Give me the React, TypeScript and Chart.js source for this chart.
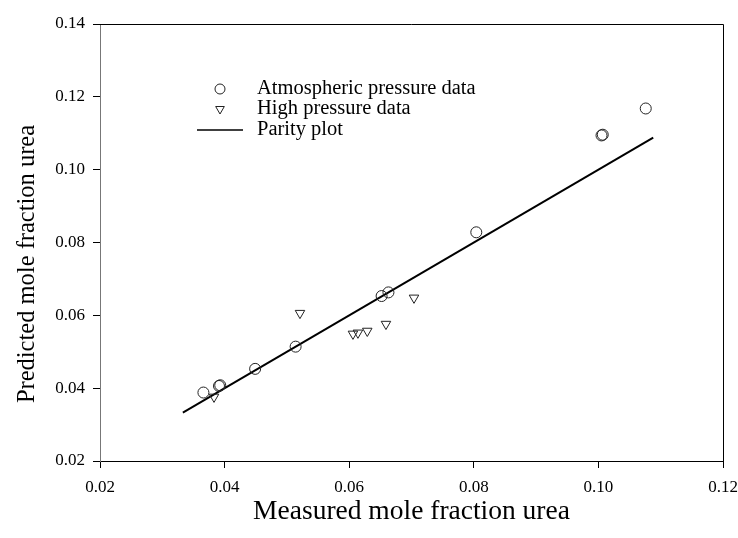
import React, { useEffect, useRef } from "react";
import { Chart, registerables } from "chart.js";

Chart.register(...registerables);

const atmX = [0.0366, 0.0391, 0.0393, 0.0449, 0.0514, 0.0652, 0.0663, 0.0804, 0.1005, 0.1007, 0.1076];
const atmY = [0.0388, 0.0406, 0.0408, 0.0453, 0.0514, 0.0653, 0.0663, 0.0828, 0.1094, 0.1096, 0.1168];
const hpX = [0.0383, 0.0521, 0.0606, 0.0614, 0.0629, 0.0659, 0.0704];
const hpY = [0.0376, 0.0606, 0.0549, 0.0552, 0.0557, 0.0576, 0.0648];
const parityX = [0.0333, 0.1088];
const parityY = [0.0333, 0.1088];

const xTicks = [0.02, 0.04, 0.06, 0.08, 0.1, 0.12];
const yTicks = [0.02, 0.04, 0.06, 0.08, 0.1, 0.12, 0.14];

const legendLabels = ["Atmospheric pressure data", "High pressure data", "Parity plot"];
const xTitle = "Measured mole fraction urea";
const yTitle = "Predicted mole fraction urea";

const FONT = "'Liberation Serif', 'Times New Roman', serif";

const zip = (xs: number[], ys: number[]) => xs.map((x, i) => ({ x, y: ys[i] }));

const decorPlugin = {
  id: "decor",
  afterDraw(chart: any) {
    const { ctx, chartArea } = chart;
    const { left, right, top, bottom } = chartArea;
    ctx.save();
    // top and right frame
    ctx.strokeStyle = "#000";
    ctx.lineWidth = 1;
    ctx.beginPath();
    ctx.moveTo(left, top + 0.5);
    ctx.lineTo(right + 0.5, top + 0.5);
    ctx.lineTo(right + 0.5, bottom);
    ctx.stroke();
    // legend
    const mx = left + 120;
    const tx = left + 157;
    const ys = [top + 65, top + 85, top + 106];
    ctx.strokeStyle = "#222";
    ctx.lineWidth = 1;
    ctx.beginPath();
    ctx.arc(mx, ys[0], 5, 0, Math.PI * 2);
    ctx.stroke();
    const r = 5;
    ctx.beginPath();
    ctx.moveTo(mx - r * 0.866, ys[1] - r * 0.5);
    ctx.lineTo(mx + r * 0.866, ys[1] - r * 0.5);
    ctx.lineTo(mx, ys[1] + r);
    ctx.closePath();
    ctx.stroke();
    ctx.strokeStyle = "#000";
    ctx.lineWidth = 1.5;
    ctx.beginPath();
    ctx.moveTo(left + 97, ys[2]);
    ctx.lineTo(left + 143, ys[2]);
    ctx.stroke();
    ctx.fillStyle = "#000";
    ctx.font = `20.5px ${FONT}`;
    ctx.textBaseline = "middle";
    ctx.textAlign = "left";
    legendLabels.forEach((t, i) => ctx.fillText(t, tx, ys[i]));
    // axis titles
    ctx.font = `27.5px ${FONT}`;
    ctx.textAlign = "center";
    ctx.fillText(xTitle, (left + right) / 2, bottom + 51);
    ctx.save();
    ctx.font = `24.5px ${FONT}`;
    ctx.translate(28, top + 240);
    ctx.rotate(-Math.PI / 2);
    ctx.fillText(yTitle, 0, 0);
    ctx.restore();
    ctx.restore();
  },
};

export default function App() {
  const ref = useRef<HTMLCanvasElement>(null);
  useEffect(() => {
    if (!ref.current) return;
    const chart = new Chart(ref.current, {
      type: "scatter",
      data: {
        datasets: [
          {
            label: legendLabels[0],
            data: zip(atmX, atmY),
            pointStyle: "circle",
            pointRadius: 5.5,
            borderColor: "#222",
            backgroundColor: "rgba(0,0,0,0)",
            borderWidth: 1,
          },
          {
            label: legendLabels[1],
            data: zip(hpX, hpY),
            pointStyle: "triangle",
            rotation: 180,
            pointRadius: 5.5,
            borderColor: "#222",
            backgroundColor: "rgba(0,0,0,0)",
            borderWidth: 1,
          } as any,
          {
            label: legendLabels[2],
            data: zip(parityX, parityY),
            showLine: true,
            pointRadius: 0,
            borderColor: "#000",
            borderWidth: 2,
          },
        ],
      },
      options: {
        animation: false,
        responsive: true,
        maintainAspectRatio: false,
        layout: { padding: { top: 24, right: 15, left: 0, bottom: 0 } },
        plugins: { legend: { display: false }, tooltip: { enabled: false } },
        scales: {
          x: {
            type: "linear",
            min: 0.02,
            max: 0.12,
            afterFit: (s: any) => { s.height = 77; s.paddingRight = 0; s.paddingLeft = 0; },
            afterBuildTicks: (s: any) => { s.ticks = xTicks.map((v) => ({ value: v })); },
            ticks: {
              color: "#000",
              font: { family: FONT, size: 17 },
              padding: 9,
              maxRotation: 0,
              callback: (v: any) => Number(v).toFixed(2),
            },
            grid: { display: true, drawOnChartArea: false, drawTicks: true, tickLength: 7, color: "#000" },
            border: { display: true, color: "#000", width: 1 },
          },
          y: {
            type: "linear",
            min: 0.02,
            max: 0.14,
            afterFit: (s: any) => { s.width = 100; s.paddingTop = 0; s.paddingBottom = 0; },
            afterBuildTicks: (s: any) => { s.ticks = yTicks.map((v) => ({ value: v })); },
            ticks: {
              color: "#000",
              font: { family: FONT, size: 17 },
              padding: 8,
              callback: (v: any) => Number(v).toFixed(2),
            },
            grid: { display: true, drawOnChartArea: false, drawTicks: true, tickLength: 7, color: "#000" },
            border: { display: true, color: "#777", width: 1 },
          },
        },
      },
      plugins: [decorPlugin],
    });
    return () => chart.destroy();
  }, []);
  return (
    <div style={{ position: "absolute", left: 0, top: 0, width: 738, height: 538, background: "#fff" }}>
      <canvas ref={ref} />
    </div>
  );
}
